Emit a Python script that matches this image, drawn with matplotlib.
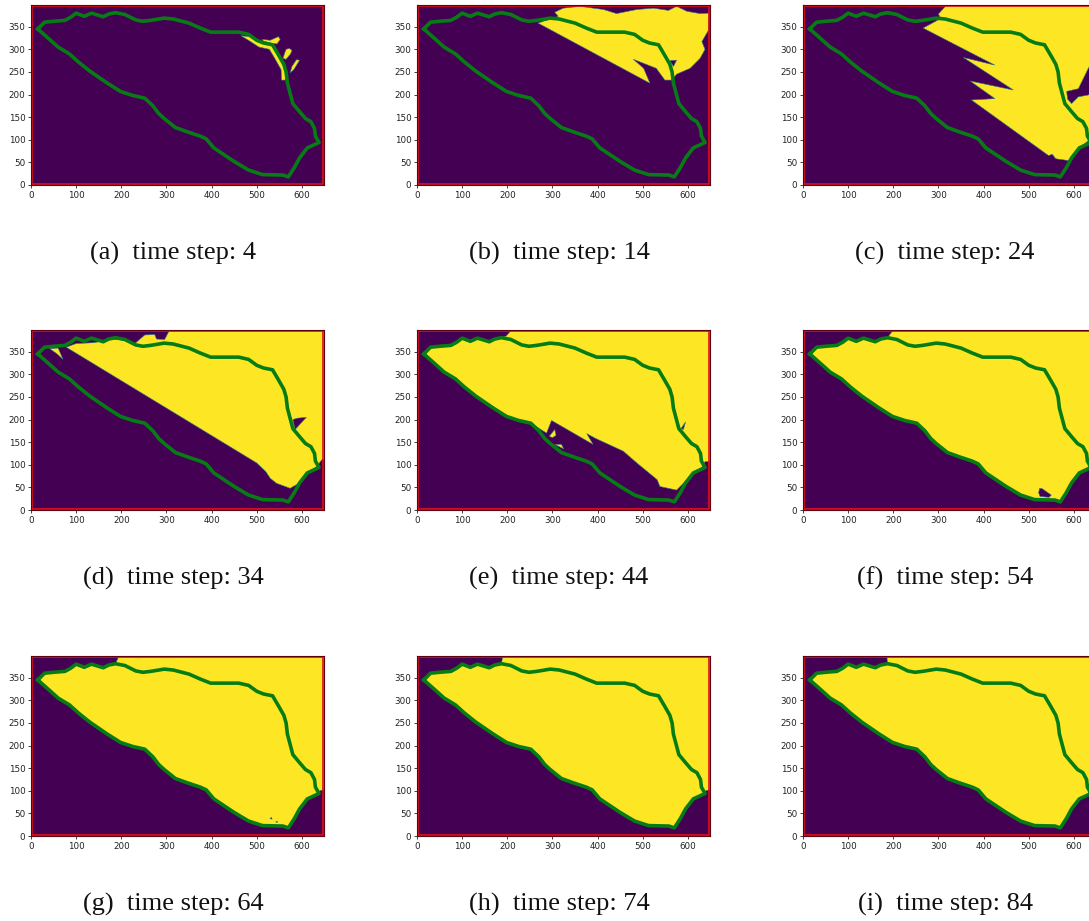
import matplotlib
matplotlib.use("Agg")
import matplotlib.pyplot as plt

# outer contour of the island, same for every time step
boundary = [(15,345),(30,360),(50,362),(75,364),(88,371),(100,380),(118,373),(134,380),(160,372),(172,378),
            (187,381),(208,377),(232,365),(248,362),(265,364),(295,369),(315,367),(350,358),(375,347),(398,338),
            (460,338),(482,333),(500,320),(515,314),(535,310),(548,288),(560,267),(565,250),(568,225),(580,180),
            (595,162),(608,147),(620,140),(628,125),(630,108),(638,94),(625,88),(612,82),(595,60),(583,38),
            (570,18),(558,22),(513,23),(482,33),(450,52),(420,72),(405,82),(388,102),(375,108),(345,118),
            (320,127),(295,147),(283,158),(270,175),(252,192),(225,198),(198,207),(168,226),(130,252),(105,272),
            (85,290),(60,305),(40,323),(15,345)]
upper_shore = boundary[10:36]
left_shore = boundary[:11]
frame_x = [2, 647, 647, 2, 2]
frame_y = [1.5, 1.5, 396, 396, 1.5]

labels = ["(a)", "(b)", "(c)", "(d)", "(e)", "(f)", "(g)", "(h)", "(i)"]
time_steps = [4, 14, 24, 34, 44, 54, 64, 74, 84]

# flooded areas (yellow) and dry pockets on top of them
yellow_a = [[(465,330),(485,328),(505,318),(532,310),(545,290),(560,262),(565,240),(563,232),(555,232),(554,255),
             (540,280),(528,300),(505,305),(485,318)],
            [(512,322),(530,320),(548,328),(552,322),(545,312),(530,314),(515,318)],
            [(558,280),(565,278),(575,290),(578,298),(572,302),(565,300),(562,292)],
            [(574,248),(582,255),(595,276),(588,277),(578,262)]]
dark_a = []
yellow_b = [[(268,358),(516,225),(502,258),(479,278),(530,258),(549,232),(564,232),(575,245),(605,258),(627,280),
             (638,300),(631,317),(646,343),(647,380),(627,379),(598,384),(575,395),(557,386),(524,391),(487,388),
             (442,379),(413,388),(361,395),(324,391),(305,382),(313,373)]]
dark_b = [[(560,275),(575,276),(568,262)]]
yellow_c = [[(266,347),(425,265),(355,282),(466,210),(370,230),(425,191),(373,188),(544,65),(552,68),(560,58),
             (588,54),(615,84),(632,98),(650,110),(650,398),(318,398),(300,378),(305,368)]]
dark_c = [[(584,207),(610,213),(632,258),(650,290),(650,210),(632,199),(610,195),(595,180),(586,190)],
          [(636,175),(650,180),(650,130),(640,140)]]
yellow_d = [[(78,360),(500,104),(520,85),(530,70),(544,59),(574,48),(593,59),(614,82),(633,96),(644,111),(650,111),
             (650,398),(307,398),(296,377),(278,378),(274,388),(252,387),(230,368),(210,375),(180,378),(140,370),(100,368)],
            [(41,357),(60,358),(71,333),(58,345)]]
dark_d = [[(585,178),(610,205),(590,203),(580,200)]]
yellow_e = [left_shore + [(198,385),(209,398),(650,398),(650,107),(638,107),(630,93),(612,82),(590,59),(575,44),
                          (538,52),(532,67),(487,104),(457,130),(394,159),(376,169),(390,145),(298,198),(287,170)]
            + boundary[54:64],
            [(293,163),(305,178),(308,165),(300,160)],
            [(305,145),(325,135),(320,145)]]
dark_e = [[(585,180),(595,195),(590,178)]]
yellow_f = [boundary, upper_shore + [(650,94),(650,398),(200,398)]]
dark_f = [[(524,48),(530,47),(550,33),(545,28),(525,30),(522,38)]]
yellow_g = [boundary, upper_shore + [(640,100),(650,103),(650,398),(195,398)]]
dark_g = [[(529,39),(533,41),(534,37)], [(542,31),(545,33),(546,30)]]
yellow_h = [boundary, upper_shore + [(640,100),(650,103),(650,398),(190,398)]]
dark_h = []
yellow_i = [boundary, upper_shore + [(650,94),(650,398),(186,398)]]
dark_i = []

yellow_all = [yellow_a, yellow_b, yellow_c, yellow_d, yellow_e, yellow_f, yellow_g, yellow_h, yellow_i]
dark_all = [dark_a, dark_b, dark_c, dark_d, dark_e, dark_f, dark_g, dark_h, dark_i]

W, H = 1089, 921
fig = plt.figure(figsize=(W / 100, H / 100), dpi=100)

lefts = [31, 417, 803]
tops = [5, 330, 656]
cap_y = [253, 578, 904]
cap_x = [173, 559, 945]

for k in range(9):
    row, col = k // 3, k % 3
    ax = fig.add_axes([lefts[col] / W, 1 - (tops[row] + 180) / H, 293 / W, 180 / H])
    ax.set_facecolor("#440154")
    for poly in yellow_all[k]:
        ax.fill([p[0] for p in poly], [p[1] for p in poly], color="#fde725", ec="#2a788e", lw=0.4)
    for poly in dark_all[k]:
        ax.fill([p[0] for p in poly], [p[1] for p in poly], color="#440154", ec="#2a788e", lw=0.4)
    ax.plot(frame_x, frame_y, color="#e0101a", lw=1.2)
    ax.plot([p[0] for p in boundary], [p[1] for p in boundary], color="#067d14", lw=2.6, solid_joinstyle="round")
    ax.set_xlim(0, 649)
    ax.set_ylim(0, 398)
    ax.set_xticks(range(0, 601, 100))
    ax.set_yticks(range(0, 351, 50))
    ax.tick_params(labelsize=6.3, length=2.5, width=0.6, pad=1.5, colors="#222222")
    for s in ax.spines.values():
        s.set_linewidth(0.8)
        s.set_color("#600010")
    fig.text(cap_x[col] / W, 1 - cap_y[row] / H, f"{labels[k]}\u2002time step: {time_steps[k]}",
             family="Liberation Serif", fontsize=19, ha="center", va="center", color="#111111")

fig.savefig("out.png", dpi=100)
plt.close(fig)
